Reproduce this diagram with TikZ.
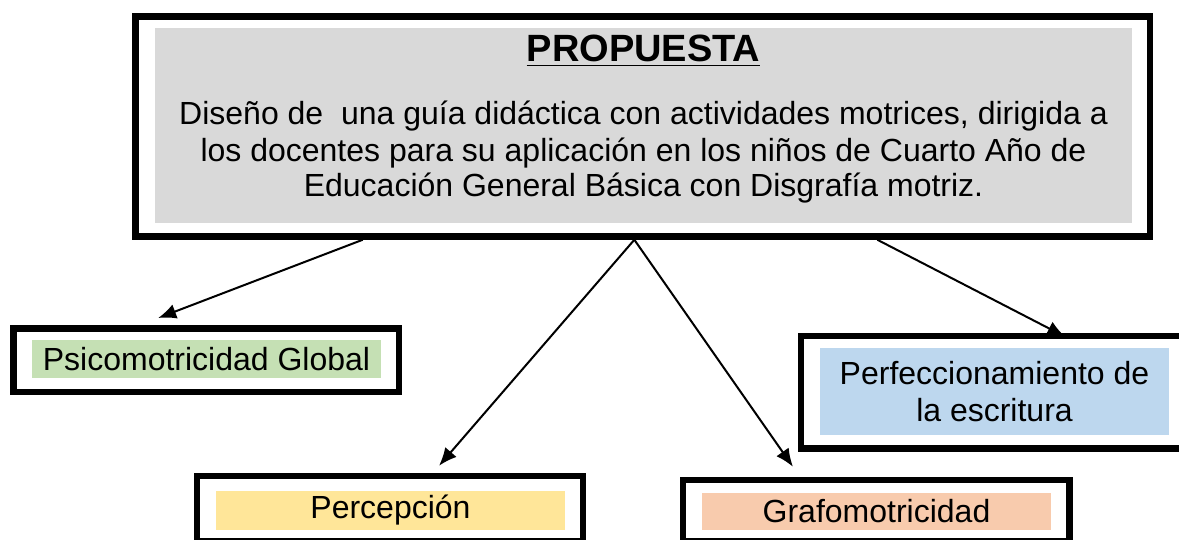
\documentclass[tikz,border=0pt]{standalone}
\usepackage{fontspec}
\setmainfont{Liberation Sans}
\usetikzlibrary{arrows.meta,calc}

\definecolor{boxgray}{HTML}{D9D9D9}
\definecolor{boxgreen}{HTML}{C5E0B4}
\definecolor{boxblue}{HTML}{BDD7EE}
\definecolor{boxyellow}{HTML}{FFE699}
\definecolor{boxpeach}{HTML}{F8CBAD}

\tikzset{
  frame/.style={draw=black, line width=3.25pt, inner sep=0pt},
  inbox/.style={inner sep=0pt, minimum width=174.5pt, align=center, font=\fontsize{16}{18.5}\selectfont},
  bodyline/.style={anchor=base, inner sep=0pt, font=\fontsize{16}{18}\selectfont},
  arr/.style={line width=1pt, -{Latex[length=9pt,width=7.5pt]}}
}

\begin{document}
\begin{tikzpicture}[x=0.5pt, y=-0.5pt]
  \clip (0,0) rectangle (1179,540);
  \useasboundingbox (0,0) rectangle (1179,540);

  % Propuesta
  \node[frame, minimum width=507.25pt, minimum height=110pt] (prop) at (642.5,126.5) {};
  \node[fill=boxgray, inner sep=0pt, minimum width=488.5pt, minimum height=97.5pt] (propfill) at (643.5,125.5) {};
  \node[anchor=base, inner sep=0pt, font=\fontsize{19}{20}\selectfont\bfseries] (title) at (643.5,62) {\underline{PROPUESTA}};
  \node[bodyline] (line1) at (643.5,125) {Diseño de~ una guía didáctica con actividades motrices, dirigida a};
  \node[bodyline] (line2) at (643.5,162) {los docentes para su aplicación en los niños de Cuarto Año de};
  \node[bodyline] (line3) at (643.5,197) {Educación General Básica con Disgrafía motriz.};

  % Ramas
  \node[frame, minimum width=192.75pt, minimum height=31.75pt] (psic) at (206,360) {};
  \node[inbox, fill=boxgreen, minimum height=19pt] (psicfill) at (206.5,359) {Psicomotricidad Global};

  \node[frame, minimum width=194.4pt, minimum height=56.25pt] (perf) at (995.6,392.25) {};
  \node[inbox, fill=boxblue, minimum height=43.5pt] (perffill) at (994.5,391.5) {Perfeccionamiento de\\la escritura};

  \node[frame, minimum width=193pt, minimum height=32.75pt] (perc) at (390,508.75) {};
  \node[inbox, fill=boxyellow, minimum height=19.5pt] (percfill) at (390.5,510.5) {Percepción};

  \node[frame, minimum width=193.25pt, minimum height=30.75pt] (graf) at (876.25,510.75) {};
  \node[inbox, fill=boxpeach, minimum height=18.5pt] (graffill) at (876.5,511.5) {Grafomotricidad};

  % Flechas
  \draw[arr] ($(prop.south west)!0.226!(prop.south east)$) -- ([yshift=3.5pt]$(psic.north west)!0.378!(psic.north east)$);
  \draw[arr] ($(prop.south west)!0.492!(prop.south east)$) -- ([yshift=3.5pt]$(perc.north west)!0.625!(perc.north east)$);
  \draw[arr] ($(prop.south west)!0.492!(prop.south east)$) -- ([yshift=5pt]$(graf.north west)!0.288!(graf.north east)$);
  \draw[arr] ($(prop.south west)!0.730!(prop.south east)$) -- ([yshift=-2pt]$(perf.north west)!0.676!(perf.north east)$);
\end{tikzpicture}
\end{document}
